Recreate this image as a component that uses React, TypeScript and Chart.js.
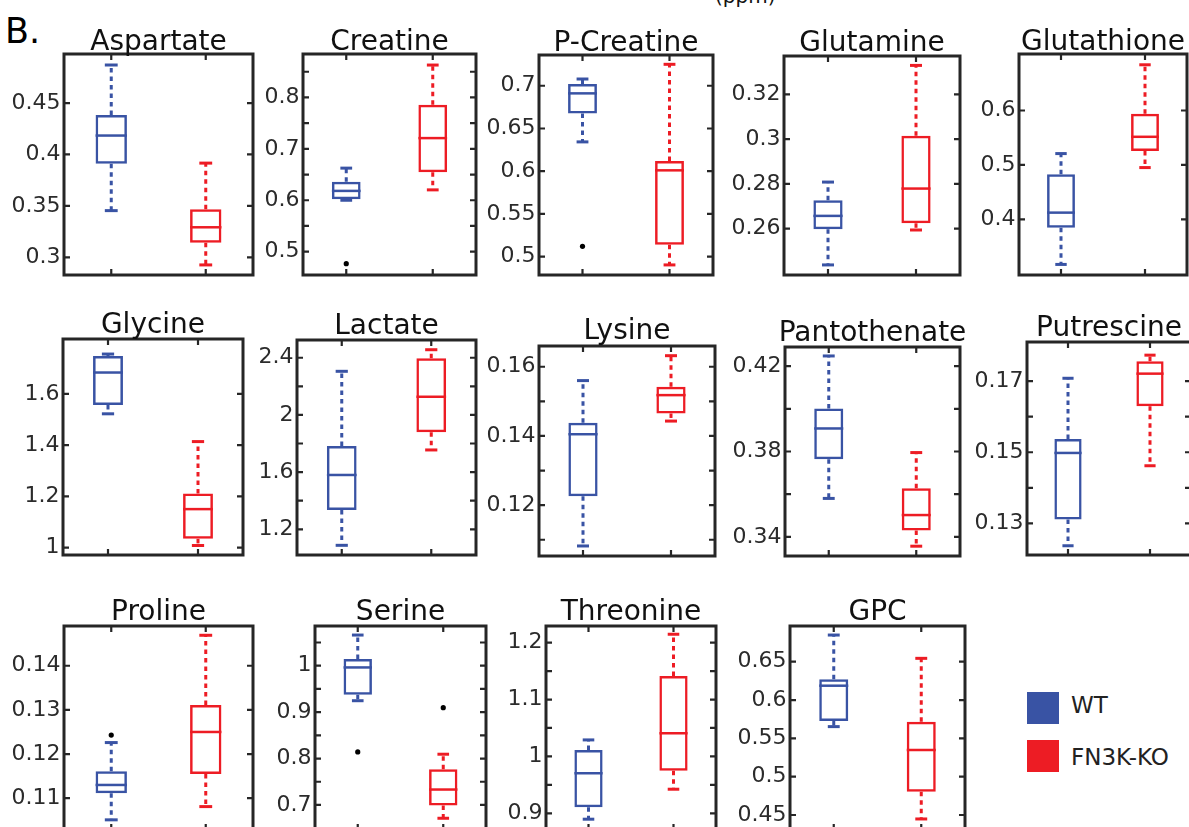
import React, { useEffect, useRef } from "react";
import { Chart, registerables } from "chart.js";

Chart.register(...registerables);

// ---------------- data ----------------
const GROUPS = ["WT", "FN3K-KO"];

const METABOLITES = [
  "Aspartate", "Creatine", "P-Creatine", "Glutamine", "Glutathione",
  "Glycine", "Lactate", "Lysine", "Pantothenate", "Putrescine",
  "Proline", "Serine", "Threonine", "GPC",
];

// five-number summaries: [min, q1, median, q3, max]
const WT_STATS = [
  [0.3454, 0.3909, 0.4184, 0.4383, 0.487],
  [0.6, 0.602, 0.6182, 0.6358, 0.6625],
  [0.6343, 0.6676, 0.6911, 0.702, 0.7079],
  [0.2438, 0.2597, 0.2657, 0.2727, 0.2808],
  [0.3174, 0.3847, 0.4125, 0.4829, 0.5209],
  [1.522, 1.556, 1.683, 1.747, 1.755],
  [1.088, 1.335, 1.58, 1.7825, 2.305],
  [0.1082, 0.1226, 0.1405, 0.1438, 0.156],
  [0.358, 0.3764, 0.3908, 0.4002, 0.4248],
  [0.1237, 0.1311, 0.1498, 0.1537, 0.1708],
  [0.1051, 0.1111, 0.113, 0.1161, 0.1226],
  [0.9246, 0.9375, 0.9963, 1.0144, 1.0661],
  [0.8896, 0.9107, 0.9704, 1.0114, 1.029],
  [0.5653, 0.5726, 0.6187, 0.627, 0.6848],
];

const KO_STATS = [
  [0.2926, 0.3142, 0.3292, 0.3468, 0.3916],
  [0.6202, 0.6547, 0.7209, 0.7858, 0.863],
  [0.4903, 0.5138, 0.601, 0.612, 0.7251],
  [0.2594, 0.2624, 0.2779, 0.3015, 0.3329],
  [0.4952, 0.5257, 0.5517, 0.5939, 0.6839],
  [1.0086, 1.0344, 1.1504, 1.2117, 1.4137],
  [1.755, 1.878, 2.127, 2.396, 2.456],
  [0.1443, 0.1465, 0.1518, 0.1542, 0.1632],
  [0.3356, 0.3429, 0.3502, 0.3628, 0.3795],
  [0.1462, 0.1629, 0.1721, 0.1756, 0.1773],
  [0.1081, 0.1155, 0.125, 0.1311, 0.1469],
  [0.6713, 0.6986, 0.7332, 0.7769, 0.8093],
  [0.9423, 0.975, 1.0407, 1.1415, 1.2148],
  [0.4448, 0.4804, 0.5348, 0.5717, 0.6544],
];

const WT_OUTLIERS = [null, 0.4767, 0.5121, null, null, null, null, null, null, null, 0.1243, 0.8142, null, null];
const KO_OUTLIERS = [null, null, null, null, null, null, null, null, null, null, null, 0.9095, null, null];

// y-axis limits [min, max]
const Y_RANGES = [
  [0.2828, 0.4977],
  [0.4546, 0.8845],
  [0.4785, 0.736],
  [0.2393, 0.3371],
  [0.298, 0.7037],
  [0.9715, 1.8137],
  [1.0203, 2.524],
  [0.1053, 0.166],
  [0.331, 0.429],
  [0.1211, 0.181],
  [0.1028, 0.149],
  [0.646, 1.0856],
  [0.8706, 1.2293],
  [0.4304, 0.6966],
];

// tick marks, and which of them carry a label
const Y_TICKS = [
  [0.3, 0.35, 0.4, 0.45],
  [0.5, 0.55, 0.6, 0.65, 0.7, 0.75, 0.8, 0.85],
  [0.5, 0.55, 0.6, 0.65, 0.7],
  [0.26, 0.28, 0.3, 0.32],
  [0.4, 0.5, 0.6],
  [1, 1.2, 1.4, 1.6],
  [1.2, 1.4, 1.6, 1.8, 2, 2.2, 2.4],
  [0.11, 0.12, 0.13, 0.14, 0.15, 0.16],
  [0.34, 0.36, 0.38, 0.4, 0.42],
  [0.13, 0.14, 0.15, 0.16, 0.17],
  [0.11, 0.12, 0.13, 0.14],
  [0.7, 0.75, 0.8, 0.85, 0.9, 0.95, 1, 1.05],
  [0.9, 0.95, 1, 1.05, 1.1, 1.15, 1.2],
  [0.45, 0.5, 0.55, 0.6, 0.65],
];

const Y_LABELS = [
  [0.3, 0.35, 0.4, 0.45],
  [0.5, 0.6, 0.7, 0.8],
  [0.5, 0.55, 0.6, 0.65, 0.7],
  [0.26, 0.28, 0.3, 0.32],
  [0.4, 0.5, 0.6],
  [1, 1.2, 1.4, 1.6],
  [1.2, 1.6, 2, 2.4],
  [0.12, 0.14, 0.16],
  [0.34, 0.38, 0.42],
  [0.13, 0.15, 0.17],
  [0.11, 0.12, 0.13, 0.14],
  [0.7, 0.8, 0.9, 1],
  [0.9, 1, 1.1, 1.2],
  [0.45, 0.5, 0.55, 0.6, 0.65],
];

// ---------------- layout (page pixels) ----------------
// plot frame: [left, top, right, bottom]
const FRAMES = [
  [64, 54, 253, 275],
  [303, 54, 476, 275],
  [539, 55, 713, 275],
  [784, 56, 960, 275],
  [1019, 54, 1187, 275],
  [63, 339, 243, 555],
  [297, 340, 476, 555],
  [539, 346, 715, 556],
  [785, 347, 960, 556],
  [1027, 342, 1191, 555],
  [64, 626, 253, 830],
  [315, 626, 486, 830],
  [546, 626, 716, 830],
  [790, 626, 965, 830],
];
const TITLE_GAPS = [4, 4, 4, 5, 4, 6, 6, 7, 6, 6, 6, 6, 6, 6];

const BLUE = "#3953a4";
const RED = "#ed1c24";
const FRAME_COLOR = "#262626";
const FONT = "'DejaVu Sans', 'Liberation Sans', sans-serif";
const AXIS_W = 62;
const PAD_TOP = 40;
const PAD_RIGHT = 30;
const PAD_BOTTOM = 4;
const TICK_LEN = 6;

function makePlugin(i: number) {
  return {
    id: "boxplotExtras" + i,
    afterDatasetsDraw(chart: any) {
      const ctx = chart.ctx;
      const xs = chart.scales.x;
      const ys = chart.scales.y;
      const meta = chart.getDatasetMeta(0);
      const stats = [WT_STATS[i], KO_STATS[i]];
      stats.forEach((s, g) => {
        const [mn, q1, md, q3, mx] = s;
        const x = xs.getPixelForValue(g);
        const w = meta.data[g].width;
        const color = g === 0 ? BLUE : RED;
        ctx.save();
        ctx.strokeStyle = color;
        ctx.lineCap = "butt";
        // median
        ctx.lineWidth = 2.5;
        ctx.beginPath();
        const ym = ys.getPixelForValue(md);
        ctx.moveTo(x - w / 2, ym);
        ctx.lineTo(x + w / 2, ym);
        ctx.stroke();
        // whiskers
        ctx.lineWidth = 3;
        ctx.setLineDash([4.5, 4]);
        ctx.beginPath();
        ctx.moveTo(x, ys.getPixelForValue(q3));
        ctx.lineTo(x, ys.getPixelForValue(mx));
        ctx.stroke();
        ctx.beginPath();
        ctx.moveTo(x, ys.getPixelForValue(q1));
        ctx.lineTo(x, ys.getPixelForValue(mn));
        ctx.stroke();
        ctx.setLineDash([]);
        // caps
        const cw = w * 0.41;
        ctx.lineWidth = 3;
        [mn, mx].forEach((v) => {
          const yy = ys.getPixelForValue(v);
          ctx.beginPath();
          ctx.moveTo(x - cw / 2, yy);
          ctx.lineTo(x + cw / 2, yy);
          ctx.stroke();
        });
        ctx.restore();
      });
    },
    afterDraw(chart: any) {
      const ctx = chart.ctx;
      const { left, top, right, bottom } = chart.chartArea;
      const xs = chart.scales.x;
      const ys = chart.scales.y;
      ctx.save();
      ctx.strokeStyle = FRAME_COLOR;
      ctx.lineWidth = 2.2;
      ys.ticks.forEach((t: any) => {
        const y = ys.getPixelForValue(t.value);
        ctx.beginPath();
        ctx.moveTo(left, y);
        ctx.lineTo(left + TICK_LEN, y);
        ctx.moveTo(right - TICK_LEN, y);
        ctx.lineTo(right, y);
        ctx.stroke();
      });
      GROUPS.forEach((_, g) => {
        const x = xs.getPixelForValue(g);
        ctx.beginPath();
        ctx.moveTo(x, top);
        ctx.lineTo(x, top + TICK_LEN);
        ctx.moveTo(x, bottom - TICK_LEN);
        ctx.lineTo(x, bottom);
        ctx.stroke();
      });
      ctx.lineWidth = 3;
      ctx.strokeRect(left, top, right - left, bottom - top);
      // panel title
      ctx.fillStyle = "#111";
      ctx.font = `28px ${FONT}`;
      ctx.textAlign = "center";
      ctx.textBaseline = "alphabetic";
      ctx.fillText(METABOLITES[i], (left + right) / 2, top - TITLE_GAPS[i]);
      ctx.restore();
    },
  };
}

function Panel({ i }: { i: number }) {
  const ref = useRef<HTMLCanvasElement | null>(null);
  const [fl, ft, fr, fb] = FRAMES[i];
  const w = AXIS_W + (fr - fl) + PAD_RIGHT;
  const h = PAD_TOP + (fb - ft) + PAD_BOTTOM;

  useEffect(() => {
    if (!ref.current) return;
    const wt = WT_STATS[i];
    const ko = KO_STATS[i];
    const ticks = Y_TICKS[i];
    const labeled = Y_LABELS[i];
    const chart = new Chart(ref.current, {
      type: "bar",
      data: {
        labels: GROUPS,
        datasets: [
          {
            type: "bar",
            data: [[wt[1], wt[3]], [ko[1], ko[3]]] as any,
            backgroundColor: "rgba(0,0,0,0)",
            borderColor: [BLUE, RED],
            borderWidth: 2.5,
            borderSkipped: false,
            barPercentage: 0.332,
            categoryPercentage: 1,
          },
          {
            type: "line",
            data: [WT_OUTLIERS[i], KO_OUTLIERS[i]] as any,
            showLine: false,
            pointRadius: 2.6,
            pointBackgroundColor: "#000",
            pointBorderColor: "#000",
            pointBorderWidth: 0,
          },
        ] as any,
      },
      options: {
        animation: false,
        responsive: false,
        devicePixelRatio: 1,
        events: [],
        layout: { padding: { top: PAD_TOP, right: PAD_RIGHT, bottom: PAD_BOTTOM, left: 0 } },
        plugins: { legend: { display: false }, tooltip: { enabled: false }, title: { display: false } },
        scales: {
          x: {
            type: "category",
            display: false,
            offset: true,
          },
          y: {
            type: "linear",
            min: Y_RANGES[i][0],
            max: Y_RANGES[i][1],
            grid: { display: false, drawTicks: false },
            border: { display: false },
            afterBuildTicks: (scale: any) => {
              scale.ticks = ticks.map((v) => ({ value: v }));
            },
            afterFit: (scale: any) => {
              scale.width = AXIS_W;
              scale.paddingTop = 0;
              scale.paddingBottom = 0;
            },
            ticks: {
              autoSkip: false,
              padding: 3.5,
              color: "#2b2b2b",
              font: { family: FONT, size: 22 },
              callback: (value: any) =>
                labeled.some((l) => Math.abs(l - Number(value)) < 1e-9) ? String(value) : "",
            },
          },
        },
      } as any,
      plugins: [makePlugin(i)],
    });
    return () => chart.destroy();
  }, [i]);

  return (
    <canvas
      ref={ref}
      width={w}
      height={h}
      style={{ position: "absolute", left: fl - AXIS_W, top: ft - PAD_TOP, width: w, height: h }}
    />
  );
}

export default function App() {
  return (
    <div
      style={{
        position: "fixed",
        left: 0,
        top: 0,
        width: 1189,
        height: 827,
        overflow: "hidden",
        background: "#fff",
        fontFamily: FONT,
      }}
    >
      <div style={{ position: "absolute", left: 715, top: -14, fontSize: 20, lineHeight: 1, color: "#111", whiteSpace: "nowrap" }}>
        (ppm)
      </div>
      <div style={{ position: "absolute", left: 5, top: 14, fontSize: 35, lineHeight: 1, color: "#000" }}>B.</div>
      {METABOLITES.map((_, i) => (
        <Panel key={i} i={i} />
      ))}
      <div style={{ position: "absolute", left: 1027, top: 692, width: 32, height: 32, background: BLUE }} />
      <div style={{ position: "absolute", left: 1027, top: 740, width: 32, height: 32, background: RED }} />
      <div style={{ position: "absolute", left: 1071, top: 693.5, fontSize: 23, lineHeight: 1, color: "#222", whiteSpace: "nowrap" }}>
        WT
      </div>
      <div style={{ position: "absolute", left: 1071, top: 745.5, fontSize: 23, lineHeight: 1, color: "#222", whiteSpace: "nowrap" }}>
        FN3K-KO
      </div>
    </div>
  );
}
